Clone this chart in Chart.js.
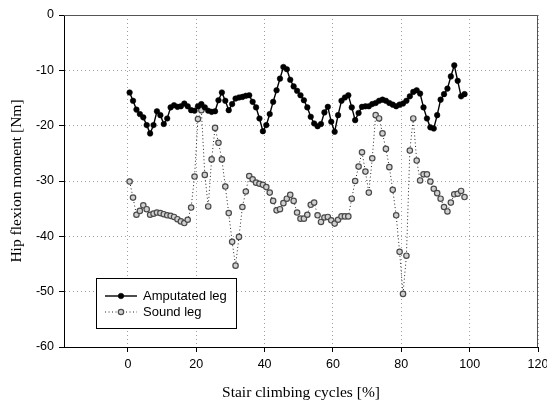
<!DOCTYPE html>
<html>
<head>
<meta charset="utf-8">
<title>Hip flexion moment</title>
<script src="https://cdn.jsdelivr.net/npm/chart.js@4.4.1/dist/chart.umd.min.js"></script>
<style>
  html, body { margin: 0; padding: 0; background: #fff; }
  #wrap { width: 547px; height: 403px; }
</style>
</head>
<body>
<div id="wrap"><canvas id="hipChart" width="547" height="403"></canvas></div>
<script>
// Stair climbing cycle, one sample per percent
var cyclePct = [
  0.5, 1.5, 2.5, 3.5, 4.5, 5.5, 6.5, 7.5, 8.5, 9.5,
  10.5, 11.5, 12.5, 13.5, 14.5, 15.5, 16.5, 17.5, 18.5, 19.5,
  20.5, 21.5, 22.5, 23.5, 24.5, 25.5, 26.5, 27.5, 28.5, 29.5,
  30.5, 31.5, 32.5, 33.5, 34.5, 35.5, 36.5, 37.5, 38.5, 39.5,
  40.5, 41.5, 42.5, 43.5, 44.5, 45.5, 46.5, 47.5, 48.5, 49.5,
  50.5, 51.5, 52.5, 53.5, 54.5, 55.5, 56.5, 57.5, 58.5, 59.5,
  60.5, 61.5, 62.5, 63.5, 64.5, 65.5, 66.5, 67.5, 68.5, 69.5,
  70.5, 71.5, 72.5, 73.5, 74.5, 75.5, 76.5, 77.5, 78.5, 79.5,
  80.5, 81.5, 82.5, 83.5, 84.5, 85.5, 86.5, 87.5, 88.5, 89.5,
  90.5, 91.5, 92.5, 93.5, 94.5, 95.5, 96.5, 97.5, 98.5
];

// Hip flexion moment [Nm]
var amputatedLeg = [
  -14.0, -15.5, -17.1, -17.9, -18.5, -19.9, -21.4, -19.9, -17.4, -18.1,
  -19.7, -18.7, -16.7, -16.3, -16.6, -16.5, -16.0, -16.5, -17.2, -17.3,
  -16.5, -16.1, -16.7, -17.3, -17.5, -17.4, -15.4, -14.0, -15.5, -17.2,
  -16.1, -15.1, -14.9, -14.8, -14.6, -14.5, -15.7, -16.7, -18.7, -21.0,
  -19.9, -17.9, -15.7, -13.6, -11.5, -9.4, -9.8, -11.7, -12.9, -13.7,
  -14.5, -15.4, -16.7, -18.4, -19.6, -20.1, -19.7, -17.6, -16.6, -19.3,
  -21.1, -18.1, -15.5, -14.9, -14.5, -16.7, -19.0, -17.7, -16.6, -16.5,
  -16.5, -16.1, -15.9, -15.5, -15.3, -15.5, -15.9, -16.2, -16.5, -16.2,
  -16.0, -15.5, -14.7, -13.9, -13.6, -14.2, -16.7, -18.7, -20.3, -20.5,
  -18.1, -15.3, -14.3, -13.3, -11.1, -9.1, -11.9, -14.7, -14.3
];

var soundLeg = [
  -30.1, -33.0, -36.1, -35.4, -34.4, -35.1, -36.1, -35.9, -35.7, -35.8,
  -36.0, -36.2, -36.3, -36.5, -36.9, -37.3, -37.6, -37.0, -34.8, -29.2,
  -18.8, -17.2, -28.9, -34.6, -26.1, -20.4, -23.1, -26.1, -31.0, -35.8,
  -41.0, -45.3, -40.1, -34.7, -31.9, -29.1, -29.7, -30.3, -30.5, -30.7,
  -31.1, -32.1, -33.6, -35.3, -35.1, -34.0, -33.2, -32.5, -33.6, -35.7,
  -36.8, -36.8, -36.1, -34.3, -33.9, -36.2, -37.4, -36.6, -36.5, -37.1,
  -37.7, -37.0, -36.4, -36.4, -36.4, -33.2, -30.0, -27.4, -24.8, -28.3,
  -32.1, -25.9, -18.1, -18.7, -21.4, -24.2, -27.5, -31.6, -36.2, -42.8,
  -50.4, -43.5, -24.5, -18.7, -26.3, -29.9, -28.8, -28.8, -30.1, -31.4,
  -32.2, -33.2, -34.7, -35.5, -33.9, -32.4, -32.3, -31.8, -32.9
];

var seriesNames = ['Amputated leg', 'Sound leg'];
var xTickValues = [0, 20, 40, 60, 80, 100, 120];
var xTitle = 'Stair climbing cycles [%]';
var yTitle = 'Hip flexion moment [Nm]';

function toPoints(xs, ys) {
  var pts = [];
  for (var i = 0; i < ys.length; i++) {
    pts.push({ x: xs[i], y: ys[i] });
  }
  return pts;
}

var SANS = '"Liberation Sans", Arial, Helvetica, sans-serif';
var SERIF = '"Liberation Serif", "Times New Roman", serif';

// top and right edges of the plot box
var frameLines = {
  id: 'frameLines',
  beforeDatasetsDraw: function (chart) {
    var a = chart.chartArea, ctx = chart.ctx;
    ctx.save();
    ctx.strokeStyle = '#555';
    ctx.lineWidth = 1;
    ctx.beginPath();
    ctx.moveTo(a.left, a.top + 0.5);
    ctx.lineTo(a.right - 0.5, a.top + 0.5);
    ctx.lineTo(a.right - 0.5, a.bottom);
    ctx.stroke();
    ctx.restore();
  }
};

// boxed legend sitting inside the plot, lower left
var boxLegend = {
  id: 'boxLegend',
  afterDatasetsDraw: function (chart) {
    var ctx = chart.ctx;
    var bx = 96, by = 278, bw = 140, bh = 50;
    ctx.save();
    ctx.fillStyle = '#fff';
    ctx.fillRect(bx, by, bw, bh);
    ctx.strokeStyle = '#000';
    ctx.lineWidth = 1;
    ctx.strokeRect(bx + 0.5, by + 0.5, bw, bh);

    chart.data.datasets.forEach(function (ds, i) {
      var rowY = by + 18 + i * 16;
      var x0 = bx + 9, x1 = bx + 41, cx = (x0 + x1) / 2;
      ctx.strokeStyle = ds.borderColor;
      ctx.lineWidth = ds.borderWidth;
      ctx.setLineDash(ds.borderDash || []);
      ctx.beginPath();
      ctx.moveTo(x0, rowY);
      ctx.lineTo(x1, rowY);
      ctx.stroke();
      ctx.setLineDash([]);
      ctx.beginPath();
      ctx.arc(cx, rowY, ds.pointRadius, 0, Math.PI * 2);
      ctx.fillStyle = ds.pointBackgroundColor;
      ctx.fill();
      ctx.lineWidth = ds.pointBorderWidth;
      ctx.strokeStyle = ds.pointBorderColor;
      ctx.stroke();

      ctx.fillStyle = '#000';
      ctx.font = '13px ' + SANS;
      ctx.textBaseline = 'middle';
      ctx.textAlign = 'left';
      ctx.fillText(ds.label, bx + 47, rowY);
    });
    ctx.restore();
  }
};

var gridOpts = {
  color: '#a0a0a0',
  lineWidth: 1,
  borderDash: [1, 3],
  tickColor: '#000',
  tickLength: 5,
  tickBorderDash: [0, 0]
};

var ctx = document.getElementById('hipChart').getContext('2d');
var chart = new Chart(ctx, {
  type: 'line',
  data: {
    datasets: [
      {
        label: seriesNames[0],
        data: toPoints(cyclePct, amputatedLeg),
        borderColor: '#000',
        borderWidth: 1.4,
        pointRadius: 2.8,
        pointBackgroundColor: '#000',
        pointBorderColor: '#000',
        pointBorderWidth: 0.5,
        tension: 0
      },
      {
        label: seriesNames[1],
        data: toPoints(cyclePct, soundLeg),
        borderColor: '#222',
        borderWidth: 1,
        borderDash: [1, 2.5],
        pointRadius: 2.7,
        pointBackgroundColor: '#d0d0d0',
        pointBorderColor: '#4a4a4a',
        pointBorderWidth: 1.2,
        tension: 0
      }
    ]
  },
  options: {
    responsive: false,
    animation: false,
    devicePixelRatio: 1,
    layout: { padding: { left: 0, top: 15, right: 9, bottom: 0 } },
    plugins: {
      legend: { display: false },
      tooltip: { enabled: false }
    },
    scales: {
      x: {
        type: 'linear',
        min: -18.7,
        max: 120,
        afterBuildTicks: function (scale) {
          scale.ticks = xTickValues.map(function (v) { return { value: v }; });
        },
        afterFit: function (scale) {
          scale.height = 56;
          scale.paddingLeft = 0;
          scale.paddingRight = 0;
        },
        ticks: {
          color: '#000',
          font: { family: SANS, size: 12.5 },
          padding: 5,
          maxRotation: 0,
          autoSkip: false
        },
        grid: gridOpts,
        border: { display: true, color: '#000', width: 1, dash: [1, 3] },
        title: {
          display: true,
          text: xTitle,
          color: '#000',
          font: { family: SERIF, size: 15.5 },
          padding: { top: 0, bottom: 1 }
        }
      },
      y: {
        type: 'linear',
        min: -60,
        max: 0,
        afterFit: function (scale) {
          scale.width = 64;
          scale.paddingTop = 0;
          scale.paddingBottom = 0;
        },
        ticks: {
          stepSize: 10,
          color: '#000',
          font: { family: SANS, size: 12.5 },
          padding: 5
        },
        grid: gridOpts,
        border: { display: true, color: '#000', width: 1, dash: [1, 3] },
        title: {
          display: true,
          text: yTitle,
          color: '#000',
          font: { family: SERIF, size: 15.5 },
          padding: { top: 8, bottom: 0 }
        }
      }
    }
  },
  plugins: [frameLines, boxLegend]
});
</script>
</body>
</html>
